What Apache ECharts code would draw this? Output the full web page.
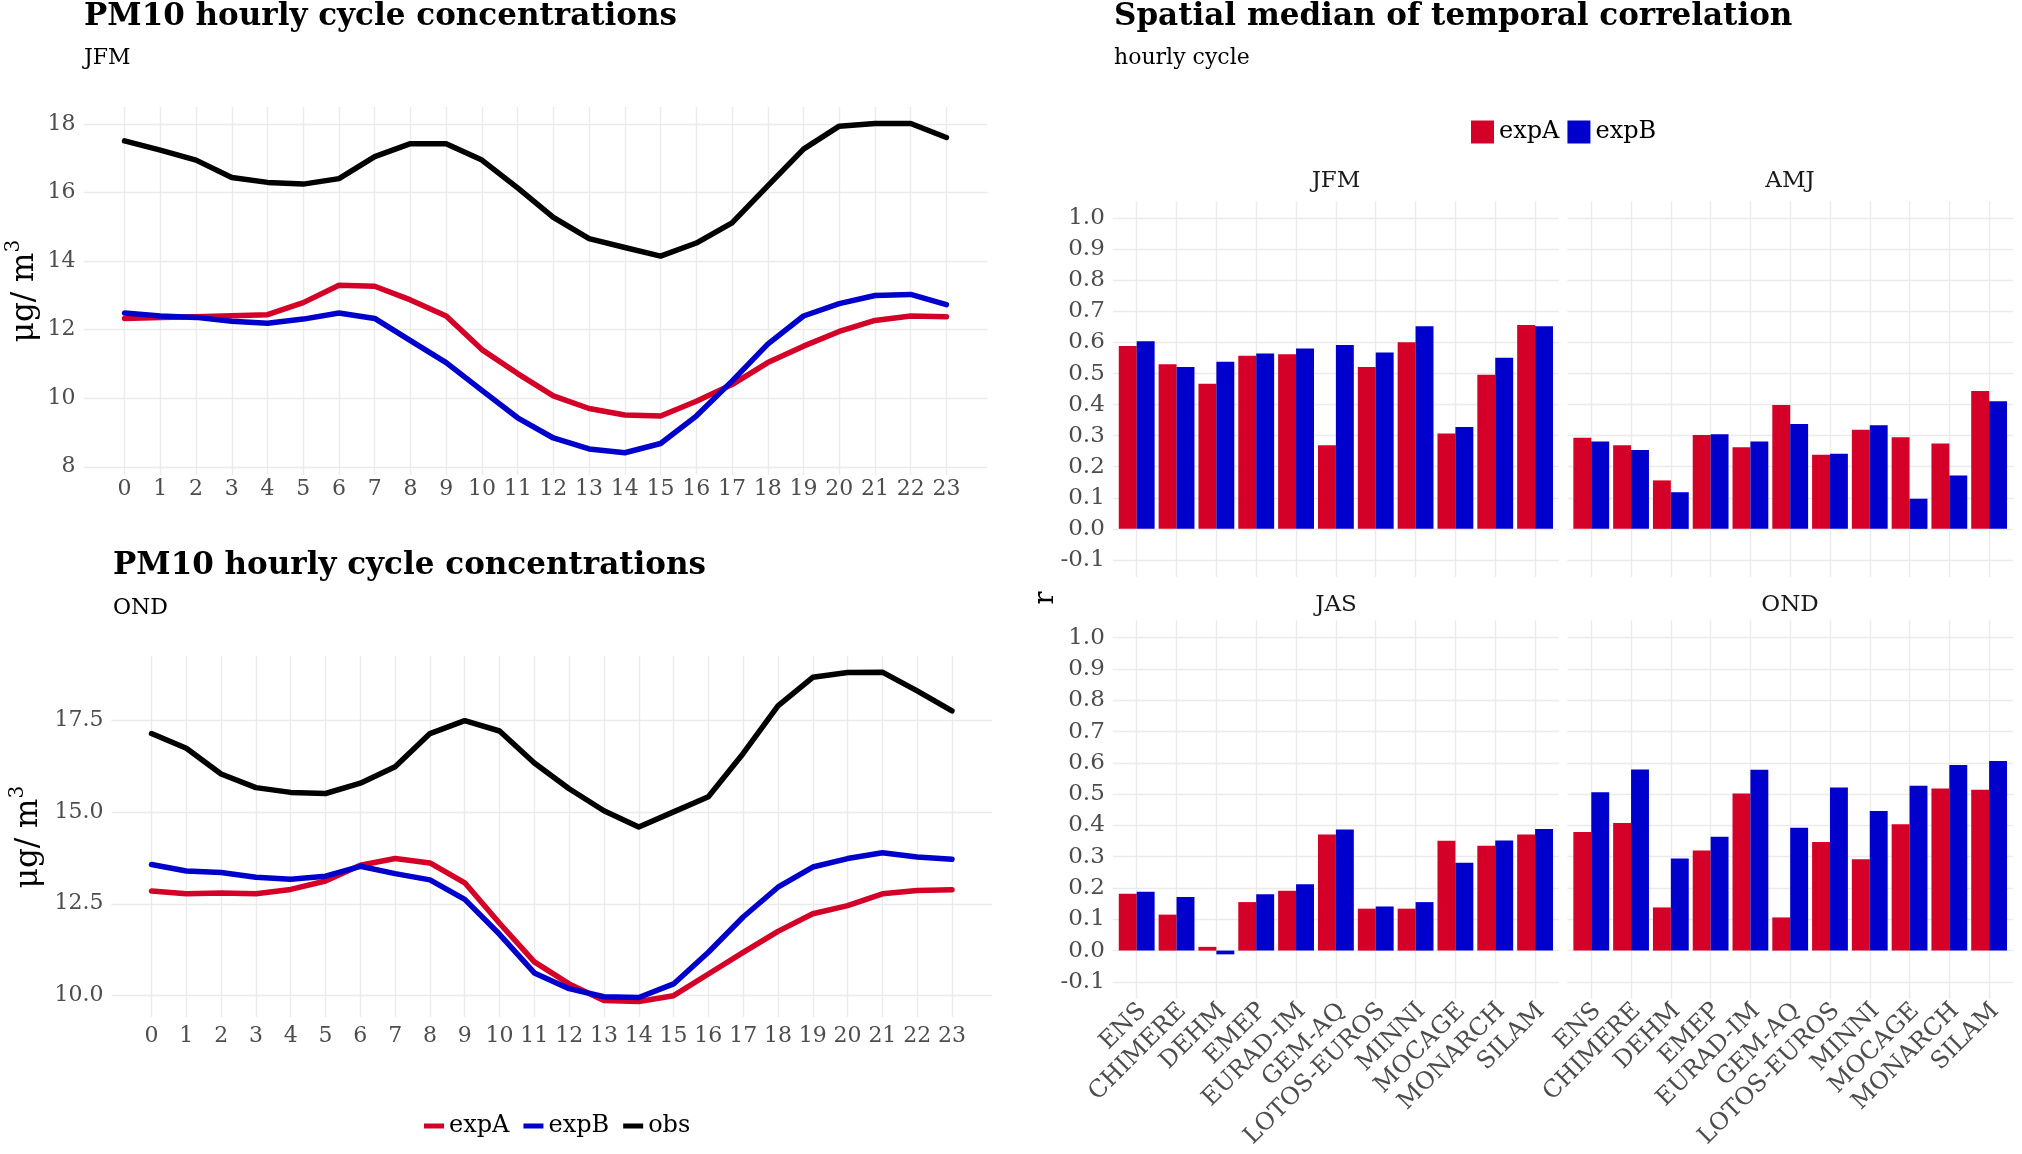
<!DOCTYPE html>
<html><head><meta charset="utf-8">
<script src="https://cdn.jsdelivr.net/npm/echarts@6/dist/echarts.min.js"></script>
<style>html,body{margin:0;padding:0;background:#fff}#c{width:2022px;height:1154px}</style>
</head><body><div id="c"></div>
<script>
// ---------- data ----------
const hours = [0,1,2,3,4,5,6,7,8,9,10,11,12,13,14,15,16,17,18,19,20,21,22,23];
const jfmExpA = [12.33,12.36,12.38,12.41,12.44,12.79,13.30,13.27,12.87,12.40,11.42,10.72,10.07,9.70,9.51,9.48,9.91,10.40,11.04,11.52,11.95,12.27,12.40,12.38];
const jfmExpB = [12.49,12.40,12.36,12.25,12.19,12.31,12.49,12.33,11.68,11.04,10.23,9.43,8.84,8.52,8.41,8.68,9.48,10.50,11.58,12.40,12.76,13.00,13.03,12.73];
const jfmObs  = [17.51,17.24,16.95,16.44,16.30,16.25,16.41,17.05,17.43,17.43,16.95,16.14,15.28,14.66,14.40,14.15,14.53,15.12,16.20,17.27,17.94,18.02,18.02,17.61];
const ondExpA = [12.85,12.77,12.79,12.77,12.89,13.12,13.55,13.73,13.61,13.07,11.97,10.92,10.32,9.87,9.84,10.00,10.59,11.18,11.75,12.23,12.45,12.77,12.86,12.88];
const ondExpB = [13.57,13.39,13.35,13.22,13.17,13.25,13.52,13.32,13.15,12.62,11.67,10.62,10.19,9.97,9.95,10.32,11.18,12.14,12.95,13.50,13.73,13.89,13.77,13.71];
const ondObs  = [17.13,16.73,16.03,15.66,15.53,15.50,15.78,16.23,17.13,17.48,17.20,16.33,15.63,15.03,14.59,15.00,15.41,16.59,17.88,18.66,18.79,18.80,18.29,17.75];
const jfmTicks = [8,10,12,14,16,18];
const ondTicks = [10.0,12.5,15.0,17.5];

const models = ['ENS','CHIMERE','DEHM','EMEP','EURAD-IM','GEM-AQ','LOTOS-EUROS','MINNI','MOCAGE','MONARCH','SILAM'];
const rJfmA = [0.589,0.530,0.467,0.557,0.562,0.269,0.521,0.601,0.307,0.496,0.656];
const rJfmB = [0.604,0.521,0.538,0.565,0.581,0.592,0.568,0.652,0.328,0.551,0.652];
const rAmjA = [0.293,0.269,0.156,0.302,0.263,0.399,0.239,0.319,0.295,0.275,0.444];
const rAmjB = [0.281,0.254,0.118,0.305,0.281,0.338,0.242,0.334,0.097,0.172,0.411];
const rJasA = [0.182,0.115,0.012,0.155,0.191,0.371,0.134,0.134,0.351,0.335,0.371];
const rJasB = [0.188,0.171,-0.012,0.180,0.212,0.387,0.141,0.155,0.281,0.352,0.389];
const rOndA = [0.379,0.408,0.138,0.320,0.502,0.106,0.347,0.292,0.404,0.518,0.514];
const rOndB = [0.506,0.579,0.294,0.364,0.578,0.393,0.521,0.446,0.527,0.593,0.606];
const rTicks = [-0.1,0.0,0.1,0.2,0.3,0.4,0.5,0.6,0.7,0.8,0.9,1.0];

// ---------- style ----------
const FONT = 'DejaVu Serif';
const RED = '#D40027', BLUE = '#0000CD', BLACK = '#000000';
const GRIDC = '#EBEBEB';
const TICKC = '#4D4D4D';
const modelIdx = models.map((m, i) => i);

const chart = echarts.init(document.getElementById('c'), null, {renderer: 'canvas'});

function lineX(grid, margin) {
  return {type:'value', gridIndex:grid, min:-1.15, max:24.15,
    axisLine:{show:false}, axisTick:{show:false, customValues:hours},
    axisLabel:{customValues:hours, color:TICKC, fontFamily:FONT, fontSize:22, margin:margin},
    splitLine:{show:true, lineStyle:{color:GRIDC, width:1.4}}};
}
function lineY(grid, mn, mx, ticks, fmt) {
  return {type:'value', gridIndex:grid, min:mn, max:mx,
    axisLine:{show:false}, axisTick:{show:false, customValues:ticks},
    axisLabel:{customValues:ticks, color:TICKC, fontFamily:FONT, fontSize:22, margin:8, formatter:fmt},
    splitLine:{show:true, lineStyle:{color:GRIDC, width:1.4}}};
}
function barX(grid) {
  return {type:'value', gridIndex:grid, min:-0.6, max:10.6,
    axisLine:{show:false}, axisTick:{show:false, customValues:modelIdx},
    axisLabel:{show:false, customValues:modelIdx},
    splitLine:{show:true, lineStyle:{color:GRIDC, width:1.4}}};
}
function barLabelX(grid) {
  return {type:'value', gridIndex:grid, min:-0.75, max:10.45, position:'bottom',
    axisLine:{show:false}, axisTick:{show:false, customValues:modelIdx},
    splitLine:{show:false},
    axisLabel:{customValues:modelIdx, formatter:(v) => models[Math.round(v)],
      rotate:45, align:'right', verticalAlign:'middle', margin:8,
      color:TICKC, fontFamily:FONT, fontSize:24}};
}
function barY(grid, showLabel) {
  return {type:'value', gridIndex:grid, min:-0.155, max:1.055,
    axisLine:{show:false}, axisTick:{show:false, customValues:rTicks},
    axisLabel:{show:showLabel, customValues:rTicks, formatter:(v) => v.toFixed(1),
      color:TICKC, fontFamily:FONT, fontSize:23, margin:8},
    splitLine:{show:true, lineStyle:{color:GRIDC, width:1.4}}};
}
function lineSeries(name, grid, arr, color) {
  return {type:'line', name:name, xAxisIndex:grid, yAxisIndex:grid,
    data:hours.map((h, i) => [h, arr[i]]), symbol:'none', color:color,
    lineStyle:{width:5.5, color:color, join:'round', cap:'round'}, silent:true, animation:false};
}
function barSeries(name, grid, arr, color) {
  return {type:'bar', name:name, xAxisIndex:grid, yAxisIndex:grid,
    data:modelIdx.map(i => [i, arr[i]]), color:color, itemStyle:{color:color},
    barGap:'0%', barCategoryGap:'10%', silent:true, animation:false};
}
function txt(text, x, y, size, opts) {
  return Object.assign({type:'text', x:x, y:y, silent:true,
    style:Object.assign({text:text, fontFamily:FONT, fontSize:size, fill:'#000',
      align:'left', verticalAlign:'middle'}, (opts && opts.style) || {})},
    (opts && opts.el) || {});
}
function unitLabel(x, y) {
  return {type:'text', x:x, y:y, rotation:Math.PI/2, silent:true,
    style:{text:'{a|μg/ m}{b|3}', align:'center', verticalAlign:'middle',
      rich:{a:{fontFamily:FONT, fontSize:31, fill:'#000', verticalAlign:'bottom'},
            b:{fontFamily:FONT, fontSize:20, fill:'#000', verticalAlign:'top', padding:[0,0,16,0]}}}};
}

const option = {
  backgroundColor:'#fff',
  animation:false,
  grid:[
    {left:83.5, top:107, width:904, height:368},
    {left:111.5, top:656, width:880.5, height:361},
    {left:1112.8, top:201.2, width:446.2, height:375.8},
    {left:1567.4, top:201.2, width:445.6, height:375.8},
    {left:1112.8, top:620.5, width:446.2, height:378.6},
    {left:1567.4, top:620.5, width:445.6, height:378.6}
  ],
  xAxis:[lineX(0, 3), lineX(1, 8), barX(2), barX(3), barX(4), barX(5), barLabelX(4), barLabelX(5)],
  yAxis:[
    lineY(0, 7.76, 18.5, jfmTicks, (v) => String(v)),
    lineY(1, 9.42, 19.24, ondTicks, (v) => v.toFixed(1)),
    barY(2, true), barY(3, false), barY(4, true), barY(5, false)
  ],
  legend:[
    {left:419, top:1109, orient:'horizontal', itemWidth:20, itemHeight:5, itemGap:14,
      data:[{name:'expA', icon:'rect'},{name:'expB', icon:'rect'},{name:'obs', icon:'rect'}],
      textStyle:{fontFamily:FONT, fontSize:24, color:'#000'}, selectedMode:false},
    {left:1466, top:115, orient:'horizontal', itemWidth:23, itemHeight:23, itemGap:8,
      data:[{name:'expA', icon:'rect'},{name:'expB', icon:'rect'}],
      textStyle:{fontFamily:FONT, fontSize:24, color:'#000'}, selectedMode:false}
  ],
  series:[
    lineSeries('expA', 0, jfmExpA, RED), lineSeries('expB', 0, jfmExpB, BLUE), lineSeries('obs', 0, jfmObs, BLACK),
    lineSeries('expA', 1, ondExpA, RED), lineSeries('expB', 1, ondExpB, BLUE), lineSeries('obs', 1, ondObs, BLACK),
    barSeries('expA', 2, rJfmA, RED), barSeries('expB', 2, rJfmB, BLUE),
    barSeries('expA', 3, rAmjA, RED), barSeries('expB', 3, rAmjB, BLUE),
    barSeries('expA', 4, rJasA, RED), barSeries('expB', 4, rJasB, BLUE),
    barSeries('expA', 5, rOndA, RED), barSeries('expB', 5, rOndB, BLUE)
  ],
  graphic:[
    txt('PM10 hourly cycle concentrations', 84, 17, 31, {style:{fontWeight:'bold'}}),
    txt('JFM', 84, 58, 22),
    txt('PM10 hourly cycle concentrations', 113, 566, 31, {style:{fontWeight:'bold'}}),
    txt('OND', 113, 608, 22),
    txt('Spatial median of temporal correlation', 1114, 17, 31, {style:{fontWeight:'bold'}}),
    txt('hourly cycle', 1114, 58, 22),
    txt('JFM', 1336, 181, 23, {style:{align:'center', fill:'#1A1A1A'}}),
    txt('AMJ', 1790, 181, 23, {style:{align:'center', fill:'#1A1A1A'}}),
    txt('JAS', 1336, 605, 23, {style:{align:'center', fill:'#1A1A1A'}}),
    txt('OND', 1790, 605, 23, {style:{align:'center', fill:'#1A1A1A'}}),
    txt('r', 1046, 598, 27, {style:{align:'center'}, el:{rotation:Math.PI/2}}),
    unitLabel(22, 291),
    unitLabel(26, 837)
  ]
};
chart.setOption(option);
</script></body></html>
